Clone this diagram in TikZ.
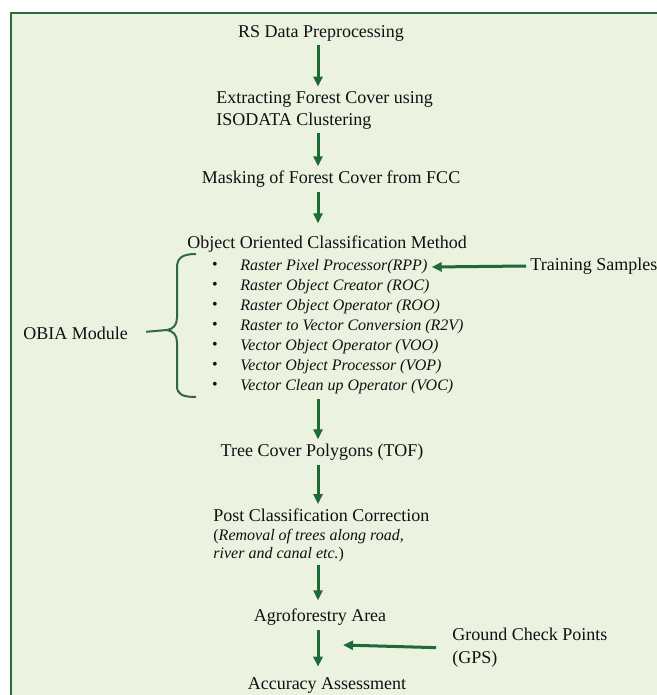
\documentclass[tikz,border=0pt]{standalone}
\usepackage{fontspec}
\setmainfont{Liberation Serif}
\usepackage{tikz}
\usetikzlibrary{arrows.meta,positioning}
\definecolor{greenx}{HTML}{1D6A36}
\definecolor{framex}{HTML}{2F6A3E}
\definecolor{softbg}{HTML}{EBF2DF}
\definecolor{inkx}{HTML}{111111}
\tikzset{
  ar/.style={-{Triangle[length=5pt,width=4.5pt]},line width=1.5pt,greenx},
  txt/.style={font=\fontsize{9}{11}\selectfont,text=inkx,inner sep=2pt},
  itm/.style={font=\fontsize{8}{10}\selectfont\itshape,text=inkx,inner sep=2pt,anchor=west},
  brc/.style={line width=1pt,framex}
}
\begin{document}
\begin{tikzpicture}[x=0.5pt,y=-0.5pt]
\useasboundingbox (0,0) rectangle (657,695);
\draw[framex,line width=1pt,fill=softbg] (11,13) rectangle (680,720);
\coordinate (ax) at (318,0);
\node[txt] (rs) at (321,33) {RS Data Preprocessing};
\node[txt,align=left,anchor=west] (ext) at (212,110) {Extracting Forest Cover using\\ISODATA Clustering};
\node[txt] (mask) at (331,179) {Masking of Forest Cover from FCC};
\node[txt] (oocm) at (327,244) {Object Oriented Classification Method};
\foreach \t [count=\i from 0] in {Raster Pixel Processor(RPP),Raster Object Creator (ROC),Raster Object Operator (ROO),Raster to Vector Conversion (R2V),Vector Object Operator (VOO),Vector Object Processor (VOP),Vector Clean up Operator (VOC)}{
  \node[itm] (itm\i) at (236,267+20*\i) {\t};
  \node[font=\fontsize{8}{10}\selectfont,text=inkx,inner sep=0pt] (bul\i) at (215,266+20*\i) {\textbullet};
}
\node[txt,anchor=west] (train) at (526,266) {Training Samples};
\node[txt,anchor=west] (obia) at (19,333) {OBIA Module};
\coordinate (tip) at (167,330);
\draw[brc] (196,254) .. controls (182,254) and (177,258) .. (177,268) -- (177,318)
  .. controls (177,325) and (173,329) .. (tip)
  .. controls (173,331) and (177,335) .. (177,342) -- (177,386)
  .. controls (177,394) and (182,397) .. (196,397);
\draw[brc,shorten <=7pt] (obia.east) -- (tip);
\node[txt] (tof) at (322,452) {Tree Cover Polygons (TOF)};
\node[txt,anchor=west] (post) at (209,515) {Post Classification Correction};
\node[txt,font=\fontsize{8}{9}\selectfont,align=left,anchor=west] (pnote) at (209,546) {(\textit{Removal of trees along road,}\\\textit{river and canal etc.})};
\node[txt] (agro) at (320,617) {Agroforestry Area};
\node[txt,font=\fontsize{9}{11.5}\selectfont,align=left,anchor=west] (gcp) at (448,648) {Ground Check Points\\(GPS)};
\coordinate (gcpin) at (343,645);
\node[txt] (acc) at (327,685) {Accuracy Assessment};
\draw[ar] (rs.south -| ax) -- (ext.north -| ax);
\draw[ar] (ext.south -| ax) -- (mask.north -| ax);
\draw[ar,shorten >=4pt] (mask.south -| ax) -- (oocm.north -| ax);
\draw[ar] (itm6.south -| ax) -- (tof.north -| ax);
\draw[ar] (tof.south -| ax) -- (post.north -| ax);
\draw[ar,shorten <=-1pt,shorten >=2pt] (pnote.south -| ax) -- (agro.north -| ax);
\draw[ar,shorten >=3pt] (agro.south -| ax) -- (acc.north -| ax);
\draw[ar] (train.west) -- (itm0.east);
\draw[ar,shorten <=6pt] (gcp.west) -- (gcpin);
\end{tikzpicture}
\end{document}
